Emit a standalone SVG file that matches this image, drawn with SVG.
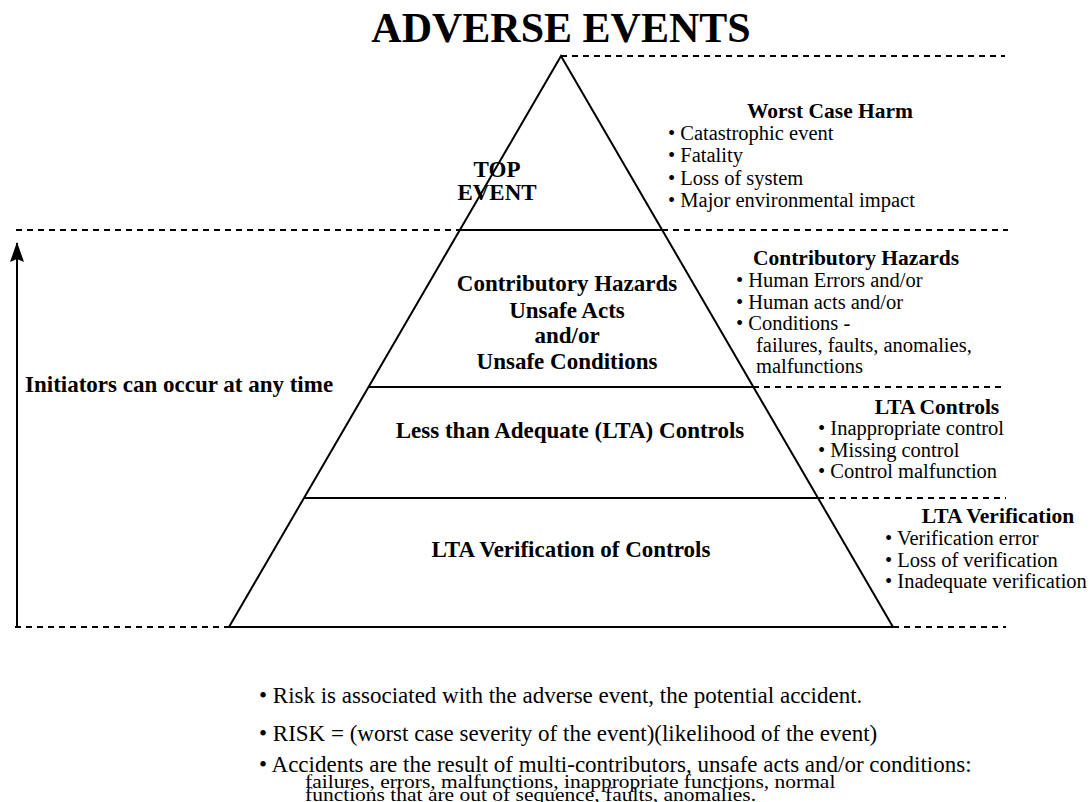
<svg xmlns="http://www.w3.org/2000/svg" width="1092" height="802" viewBox="0 0 1092 802">
<defs>
<style>
text{font-family:"Liberation Serif","Times New Roman",serif;fill:#000}
.b{font-weight:bold}
.t{font-size:23px;font-weight:bold;text-anchor:middle}
.h{font-size:21.5px;font-weight:bold;text-anchor:middle}
.r{font-size:20.5px}
.f{font-size:23px}
.g{font-size:21.5px}
.dash{stroke:#000;stroke-width:2;stroke-dasharray:6,5;fill:none}
.sol{stroke:#000;stroke-width:2;fill:none}
</style>
<marker id="ah" viewBox="0 0 20 14" refX="19" refY="7" markerWidth="20" markerHeight="14" markerUnits="userSpaceOnUse" orient="auto">
<path d="M20,7 L0,0 L3,7 L0,14 Z" fill="#000"/>
</marker>
</defs>
<rect width="1092" height="802" fill="#fff"/>
<text x="561" y="42" font-size="42" class="b" text-anchor="middle">ADVERSE EVENTS</text>
<g id="guides">
<line class="dash" x1="561" y1="56" x2="1005" y2="56"/>
<line class="dash" x1="16" y1="230" x2="460" y2="230"/>
<line class="dash" x1="662" y1="230" x2="1008" y2="230"/>
<line class="dash" x1="753" y1="387" x2="1006" y2="387"/>
<line class="dash" x1="818" y1="498" x2="1006" y2="498"/>
<line class="dash" x1="15" y1="627" x2="229" y2="627"/>
<line class="dash" x1="893" y1="627" x2="1006" y2="627"/>
</g>
<g id="pyramid">
<path class="sol" d="M229,627 L561,56 L893,627 Z"/>
<line class="sol" x1="460" y1="230" x2="662" y2="230"/>
<line class="sol" x1="369" y1="387" x2="753" y2="387"/>
<line class="sol" x1="304" y1="498" x2="818" y2="498"/>
</g>
<g id="connectors">
<line class="sol" x1="17" y1="627" x2="17" y2="243" marker-end="url(#ah)"/>
</g>
<g id="top-event">
<text class="t" x="497" y="177" font-size="20">TOP</text>
<text class="t" x="497" y="200" font-size="20">EVENT</text>
</g>
<g id="contributory-hazards">
<text class="t" x="567" y="291">Contributory Hazards</text>
<text class="t" x="567" y="318">Unsafe Acts</text>
<text class="t" x="567" y="343">and/or</text>
<text class="t" x="567" y="369">Unsafe Conditions</text>
</g>
<g id="lta-controls">
<text class="t" x="570" y="438">Less than Adequate (LTA) Controls</text>
</g>
<g id="lta-verification">
<text class="t" x="571" y="557">LTA Verification of Controls</text>
</g>
<g id="initiators">
<text x="25" y="392" font-size="23" class="b">Initiators can occur at any time</text>
</g>
<g id="worst-case-harm">
<text class="h" x="830" y="118">Worst Case Harm</text>
<text class="r" x="668" y="140">• Catastrophic event</text>
<text class="r" x="668" y="162">• Fatality</text>
<text class="r" x="668" y="185">• Loss of system</text>
<text class="r" x="668" y="207">•  Major environmental impact</text>
</g>
<g id="contributory-list">
<text class="h" x="856" y="265">Contributory Hazards</text>
<text class="r" x="736" y="287">• Human Errors and/or</text>
<text class="r" x="736" y="309">• Human acts and/or</text>
<text class="r" x="736" y="330">• Conditions -</text>
<text class="r" x="756" y="352">failures, faults, anomalies,</text>
<text class="r" x="756" y="373">malfunctions</text>
</g>
<g id="lta-controls-list">
<text class="h" x="937" y="414">LTA Controls</text>
<text class="r" x="818" y="435">• Inappropriate control</text>
<text class="r" x="818" y="457">• Missing control</text>
<text class="r" x="818" y="478">• Control malfunction</text>
</g>
<g id="lta-verification-list">
<text class="h" x="998" y="523">LTA Verification</text>
<text class="r" x="885" y="545">• Verification error</text>
<text class="r" x="885" y="567">• Loss of verification</text>
<text class="r" x="885" y="588">• Inadequate verification</text>
</g>
<g id="notes">
<text class="f" x="259" y="703">• Risk is associated with the adverse event, the potential accident.</text>
<text class="f" x="259" y="741" font-size="22.2">•  RISK = (worst case severity of the event)(likelihood of the event)</text>
<text class="f" x="259" y="772">•  Accidents are the result of multi-contributors, unsafe acts and/or conditions:</text>
<text class="g" transform="translate(305,788) scale(1,0.85)">failures, errors, malfunctions, inappropriate functions, normal</text>
<text class="g" transform="translate(305,801) scale(1,0.85)">functions that are out of sequence, faults, anomalies.</text>
</g>
</svg>
